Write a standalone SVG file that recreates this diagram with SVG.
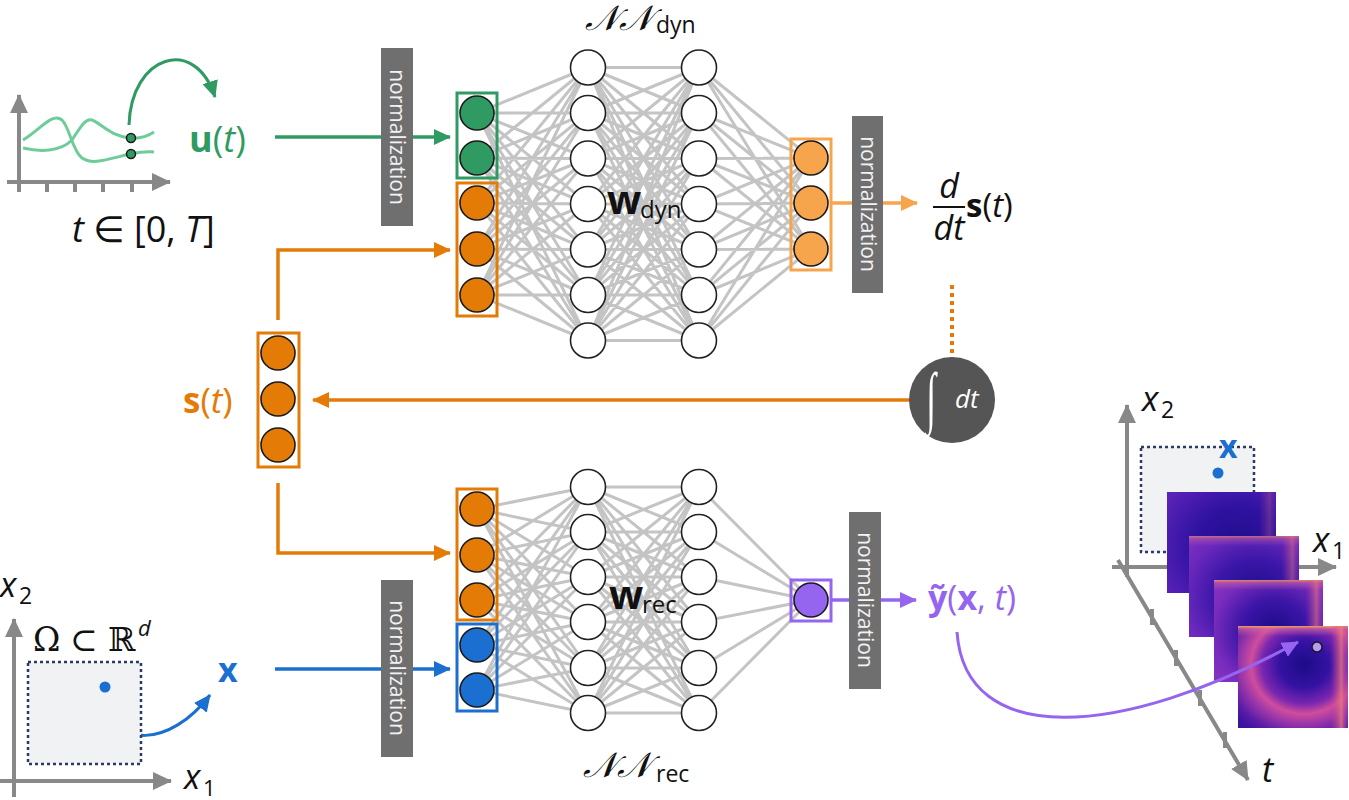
<svg xmlns="http://www.w3.org/2000/svg" width="1349" height="800" viewBox="0 0 1349 800">
<style>
.lbl{font-family:"Open Sans","Noto Sans","DejaVu Sans",sans-serif;}
.edge{fill:none;stroke:#c4c4c4;stroke-width:3;}
.hid{fill:#ffffff;stroke:#222222;stroke-width:1.6;}
.node{stroke:#1a1a1a;stroke-width:1.6;}
.norm{fill:#6f6f6f;}
.normtxt{font-family:"Open Sans","Noto Sans","DejaVu Sans",sans-serif;font-size:21px;fill:#f2f2f2;}
.axis{fill:none;stroke:#888888;stroke-width:4;}
.cal{font-family:"DejaVu Serif","Liberation Serif",serif;font-style:italic;}
.ser{font-family:"DejaVu Serif","Liberation Serif",serif;}
</style>
<defs>
<marker id="aG" markerUnits="userSpaceOnUse" markerWidth="18" markerHeight="16" refX="16" refY="8" orient="auto"><path d="M0,0 L17,8 L0,16 z" fill="#2f9b63"/></marker>
<marker id="aO" markerUnits="userSpaceOnUse" markerWidth="18" markerHeight="16" refX="16" refY="8" orient="auto"><path d="M0,0 L17,8 L0,16 z" fill="#e47b07"/></marker>
<marker id="aL" markerUnits="userSpaceOnUse" markerWidth="18" markerHeight="16" refX="16" refY="8" orient="auto"><path d="M0,0 L17,8 L0,16 z" fill="#f6a54c"/></marker>
<marker id="aB" markerUnits="userSpaceOnUse" markerWidth="18" markerHeight="16" refX="16" refY="8" orient="auto"><path d="M0,0 L17,8 L0,16 z" fill="#1a6fd1"/></marker>
<marker id="aP" markerUnits="userSpaceOnUse" markerWidth="18" markerHeight="16" refX="16" refY="8" orient="auto"><path d="M0,0 L17,8 L0,16 z" fill="#9565f0"/></marker>
<marker id="aX" markerUnits="userSpaceOnUse" markerWidth="20" markerHeight="18" refX="18" refY="9" orient="auto"><path d="M0,0 L19,9 L0,18 z" fill="#888888"/></marker>
<radialGradient id="hm1" cx="0.65" cy="0.55" r="0.8">
<stop offset="0" stop-color="#1f0c8c"/><stop offset="0.5" stop-color="#2f12a0"/><stop offset="1" stop-color="#5a22b8"/>
</radialGradient>
<radialGradient id="hm2" cx="0.6" cy="0.6" r="0.8">
<stop offset="0" stop-color="#1e0c8a"/><stop offset="0.45" stop-color="#3a16a8"/><stop offset="0.8" stop-color="#6a28bc"/><stop offset="1" stop-color="#7a30c0"/>
</radialGradient>
<radialGradient id="hm3" cx="0.55" cy="0.5" r="0.75">
<stop offset="0" stop-color="#1c0b88"/><stop offset="0.4" stop-color="#3a15a6"/><stop offset="0.75" stop-color="#7a2cbd"/><stop offset="1" stop-color="#8a34bf"/>
</radialGradient>
<radialGradient id="hm4" cx="0.6" cy="0.38" r="0.8">
<stop offset="0" stop-color="#1c0b88"/><stop offset="0.28" stop-color="#3412a2"/><stop offset="0.48" stop-color="#7a26b0"/><stop offset="0.6" stop-color="#cf4d9c"/><stop offset="0.7" stop-color="#a53aa8"/><stop offset="0.88" stop-color="#5a1ca8"/><stop offset="1" stop-color="#3a139f"/>
</radialGradient>
<linearGradient id="topE" x1="0" y1="0" x2="0" y2="1">
<stop offset="0" stop-color="#f6a052" stop-opacity="1"/><stop offset="0.03" stop-color="#d86aa0" stop-opacity="0.6"/><stop offset="0.1" stop-color="#d86aa0" stop-opacity="0"/>
</linearGradient>
<linearGradient id="rightE" x1="1" y1="0" x2="0" y2="0">
<stop offset="0" stop-color="#b03ca8" stop-opacity="0.2"/><stop offset="0.06" stop-color="#ee7a7a" stop-opacity="0.75"/><stop offset="0.16" stop-color="#c8408a" stop-opacity="0"/>
</linearGradient>
</defs>
<rect width="1349" height="800" fill="#ffffff"/>

<!-- network edges -->
<g id="edges-dyn">
<path class="edge" d="M477 113L588 67.5M477 113L588 113M477 113L588 158.5M477 113L588 204M477 113L588 249.5M477 113L588 295M477 113L588 340.5
M477 158L588 67.5M477 158L588 113M477 158L588 158.5M477 158L588 204M477 158L588 249.5M477 158L588 295M477 158L588 340.5
M477 203L588 67.5M477 203L588 113M477 203L588 158.5M477 203L588 204M477 203L588 249.5M477 203L588 295M477 203L588 340.5
M477 249L588 67.5M477 249L588 113M477 249L588 158.5M477 249L588 204M477 249L588 249.5M477 249L588 295M477 249L588 340.5
M477 295L588 67.5M477 295L588 113M477 295L588 158.5M477 295L588 204M477 295L588 249.5M477 295L588 295M477 295L588 340.5"/>
<path class="edge" d="M588 67.5L699 67.5M588 67.5L699 113M588 67.5L699 158.5M588 67.5L699 204M588 67.5L699 249.5M588 67.5L699 295M588 67.5L699 340.5
M588 113L699 67.5M588 113L699 113M588 113L699 158.5M588 113L699 204M588 113L699 249.5M588 113L699 295M588 113L699 340.5
M588 158.5L699 67.5M588 158.5L699 113M588 158.5L699 158.5M588 158.5L699 204M588 158.5L699 249.5M588 158.5L699 295M588 158.5L699 340.5
M588 204L699 67.5M588 204L699 113M588 204L699 158.5M588 204L699 204M588 204L699 249.5M588 204L699 295M588 204L699 340.5
M588 249.5L699 67.5M588 249.5L699 113M588 249.5L699 158.5M588 249.5L699 204M588 249.5L699 249.5M588 249.5L699 295M588 249.5L699 340.5
M588 295L699 67.5M588 295L699 113M588 295L699 158.5M588 295L699 204M588 295L699 249.5M588 295L699 295M588 295L699 340.5
M588 340.5L699 67.5M588 340.5L699 113M588 340.5L699 158.5M588 340.5L699 204M588 340.5L699 249.5M588 340.5L699 295M588 340.5L699 340.5"/>
<path class="edge" d="M699 67.5L811 158M699 67.5L811 203M699 67.5L811 249
M699 113L811 158M699 113L811 203M699 113L811 249
M699 158.5L811 158M699 158.5L811 203M699 158.5L811 249
M699 204L811 158M699 204L811 203M699 204L811 249
M699 249.5L811 158M699 249.5L811 203M699 249.5L811 249
M699 295L811 158M699 295L811 203M699 295L811 249
M699 340.5L811 158M699 340.5L811 203M699 340.5L811 249"/>
</g>
<g id="edges-rec">
<path class="edge" d="M477 509L588 487M477 509L588 532M477 509L588 577M477 509L588 622M477 509L588 668M477 509L588 713
M477 555L588 487M477 555L588 532M477 555L588 577M477 555L588 622M477 555L588 668M477 555L588 713
M477 600L588 487M477 600L588 532M477 600L588 577M477 600L588 622M477 600L588 668M477 600L588 713
M477 645L588 487M477 645L588 532M477 645L588 577M477 645L588 622M477 645L588 668M477 645L588 713
M477 690L588 487M477 690L588 532M477 690L588 577M477 690L588 622M477 690L588 668M477 690L588 713"/>
<path class="edge" d="M588 487L699 487M588 487L699 532M588 487L699 577M588 487L699 622M588 487L699 668M588 487L699 713
M588 532L699 487M588 532L699 532M588 532L699 577M588 532L699 622M588 532L699 668M588 532L699 713
M588 577L699 487M588 577L699 532M588 577L699 577M588 577L699 622M588 577L699 668M588 577L699 713
M588 622L699 487M588 622L699 532M588 622L699 577M588 622L699 622M588 622L699 668M588 622L699 713
M588 668L699 487M588 668L699 532M588 668L699 577M588 668L699 622M588 668L699 668M588 668L699 713
M588 713L699 487M588 713L699 532M588 713L699 577M588 713L699 622M588 713L699 668M588 713L699 713"/>
<path class="edge" d="M699 487L811 600M699 532L811 600M699 577L811 600M699 622L811 600M699 668L811 600M699 713L811 600"/>
</g>

<!-- connectors -->
<g id="connectors" fill="none" stroke-width="3.5">
<path d="M275 137H450" stroke="#2f9b63" marker-end="url(#aG)"/>
<path d="M278 320V250H450" stroke="#e47b07" marker-end="url(#aO)"/>
<path d="M278 483V553H450" stroke="#e47b07" marker-end="url(#aO)"/>
<path d="M275 669H450" stroke="#1a6fd1" marker-end="url(#aB)"/>
<path d="M831 203H917" stroke="#f6a54c" marker-end="url(#aL)"/>
<path d="M831 600H916" stroke="#9565f0" marker-end="url(#aP)"/>
<path d="M912 400H313" stroke="#e47b07" marker-end="url(#aO)"/>
<path d="M952 285V360" stroke="#e47b07" stroke-width="4" stroke-dasharray="4 4"/>
<path d="M129 125C131 55 195 35 215 97" stroke="#2f9b63" stroke-width="3" marker-end="url(#aG)"/>
<path d="M108 700C112 748 170 748 210 695" stroke="#1a6fd1" stroke-width="3" marker-end="url(#aB)"/>
</g>

<!-- normalization bars -->
<g id="norm-in-dyn"><rect class="norm" x="381" y="48" width="32" height="178"/><text class="normtxt" transform="translate(390,137) rotate(90)" text-anchor="middle">normalization</text></g>
<g id="norm-out-dyn"><rect class="norm" x="852" y="116" width="31" height="177"/><text class="normtxt" transform="translate(861,204) rotate(90)" text-anchor="middle">normalization</text></g>
<g id="norm-in-rec"><rect class="norm" x="381" y="580" width="32" height="177"/><text class="normtxt" transform="translate(390,668) rotate(90)" text-anchor="middle">normalization</text></g>
<g id="norm-out-rec"><rect class="norm" x="849" y="512" width="32" height="177"/><text class="normtxt" transform="translate(858,600) rotate(90)" text-anchor="middle">normalization</text></g>

<!-- top network nodes -->
<g id="in-u">
<rect x="457" y="93" width="40" height="85" fill="none" stroke="#2f9b63" stroke-width="3"/>
<circle class="node" cx="477" cy="113" r="17" fill="#2f9b63"/>
<circle class="node" cx="477" cy="158" r="17" fill="#2f9b63"/>
</g>
<g id="in-s-dyn">
<rect x="457" y="183" width="40" height="133" fill="none" stroke="#e47b07" stroke-width="3"/>
<circle class="node" cx="477" cy="203" r="17" fill="#e47b07"/>
<circle class="node" cx="477" cy="249" r="17" fill="#e47b07"/>
<circle class="node" cx="477" cy="295" r="17" fill="#e47b07"/>
</g>
<g id="hidden-dyn">
<circle class="hid" cx="588" cy="67.5" r="17.5"/><circle class="hid" cx="588" cy="113" r="17.5"/><circle class="hid" cx="588" cy="158.5" r="17.5"/><circle class="hid" cx="588" cy="204" r="17.5"/><circle class="hid" cx="588" cy="249.5" r="17.5"/><circle class="hid" cx="588" cy="295" r="17.5"/><circle class="hid" cx="588" cy="340.5" r="17.5"/>
<circle class="hid" cx="699" cy="67.5" r="17.5"/><circle class="hid" cx="699" cy="113" r="17.5"/><circle class="hid" cx="699" cy="158.5" r="17.5"/><circle class="hid" cx="699" cy="204" r="17.5"/><circle class="hid" cx="699" cy="249.5" r="17.5"/><circle class="hid" cx="699" cy="295" r="17.5"/><circle class="hid" cx="699" cy="340.5" r="17.5"/>
</g>
<g id="out-dyn">
<rect x="791" y="139" width="40" height="131" fill="none" stroke="#f6a54c" stroke-width="3"/>
<circle class="node" cx="811" cy="158" r="17" fill="#f6a54c"/>
<circle class="node" cx="811" cy="203" r="17" fill="#f6a54c"/>
<circle class="node" cx="811" cy="249" r="17" fill="#f6a54c"/>
</g>
<g id="label-nn-dyn" class="lbl">
<text x="585" y="30" class="cal" font-size="35" fill="#111">𝒩𝒩</text>
<text x="656" y="33" font-size="23" fill="#111">dyn</text>
<text x="607" y="214" font-size="40" font-weight="bold" fill="#111">w</text>
<text x="640" y="218" font-size="24" fill="#111">dyn</text>
</g>

<!-- bottom network nodes -->
<g id="in-s-rec">
<rect x="457" y="489" width="40" height="131" fill="none" stroke="#e47b07" stroke-width="3"/>
<circle class="node" cx="477" cy="509" r="17" fill="#e47b07"/>
<circle class="node" cx="477" cy="555" r="17" fill="#e47b07"/>
<circle class="node" cx="477" cy="600" r="17" fill="#e47b07"/>
</g>
<g id="in-x">
<rect x="457" y="624" width="40" height="87" fill="none" stroke="#1a6fd1" stroke-width="3"/>
<circle class="node" cx="477" cy="645" r="17" fill="#1a6fd1"/>
<circle class="node" cx="477" cy="690" r="17" fill="#1a6fd1"/>
</g>
<g id="hidden-rec">
<circle class="hid" cx="588" cy="487" r="17.5"/><circle class="hid" cx="588" cy="532" r="17.5"/><circle class="hid" cx="588" cy="577" r="17.5"/><circle class="hid" cx="588" cy="622" r="17.5"/><circle class="hid" cx="588" cy="668" r="17.5"/><circle class="hid" cx="588" cy="713" r="17.5"/>
<circle class="hid" cx="699" cy="487" r="17.5"/><circle class="hid" cx="699" cy="532" r="17.5"/><circle class="hid" cx="699" cy="577" r="17.5"/><circle class="hid" cx="699" cy="622" r="17.5"/><circle class="hid" cx="699" cy="668" r="17.5"/><circle class="hid" cx="699" cy="713" r="17.5"/>
</g>
<g id="out-rec">
<rect x="791" y="580" width="40" height="41" fill="none" stroke="#9565f0" stroke-width="3"/>
<circle class="node" cx="811" cy="600" r="17" fill="#9565f0"/>
</g>
<g id="label-nn-rec" class="lbl">
<text x="583" y="777" class="cal" font-size="35" fill="#111">𝒩𝒩</text>
<text x="656" y="782" font-size="23" fill="#111">rec</text>
<text x="609" y="609" font-size="40" font-weight="bold" fill="#111">w</text>
<text x="642" y="613" font-size="24" fill="#111">rec</text>
</g>

<!-- state vector s(t) -->
<g id="state">
<rect x="258" y="333" width="41" height="134" fill="none" stroke="#e47b07" stroke-width="3"/>
<circle class="node" cx="278" cy="353" r="17" fill="#e47b07"/>
<circle class="node" cx="278" cy="399" r="17" fill="#e47b07"/>
<circle class="node" cx="278" cy="445" r="17" fill="#e47b07"/>
<text class="lbl" x="183" y="413" font-size="35" fill="#e47b07"><tspan font-weight="bold">s</tspan>(<tspan font-style="italic">t</tspan>)</text>
</g>

<!-- integrator -->
<g id="integrator">
<circle cx="952" cy="400" r="43" fill="#555555"/>
<text transform="translate(931,420) scale(0.8,1.55)" font-family="Liberation Serif, serif" font-size="44" fill="#ffffff" text-anchor="middle">∫</text>
<text class="lbl" x="955" y="408" font-size="26" font-style="italic" fill="#ffffff">dt</text>
</g>

<!-- derivative label -->
<g id="ds-label" class="lbl" fill="#111">
<text x="949" y="198" font-size="34" font-style="italic" text-anchor="middle">d</text>
<line x1="933" y1="207" x2="965" y2="207" stroke="#111" stroke-width="2"/>
<text x="949" y="240" font-size="34" font-style="italic" text-anchor="middle">dt</text>
<text x="966" y="217" font-size="33"><tspan font-weight="bold">s</tspan>(<tspan font-style="italic">t</tspan>)</text>
</g>

<!-- input u(t) plot -->
<g id="u-plot">
<path class="axis" d="M19 192V95" marker-end="url(#aX)"/>
<path class="axis" d="M7 182H170" marker-end="url(#aX)"/>
<path class="axis" d="M19 182v10M47 182v10M75 182v10M103 182v10M132 182v10"/>
<path d="M23 140C40 130 52 112 62 120C70 128 72 150 82 158C92 165 105 160 130 154C140 152 148 151 154 152" fill="none" stroke="#6dcc9a" stroke-width="3"/>
<path d="M23 148C40 152 60 152 72 140C80 128 85 118 92 120C102 124 110 136 130 138C140 139 148 136 154 132" fill="none" stroke="#6dcc9a" stroke-width="3"/>
<circle cx="131" cy="138" r="4.5" fill="#2f9b63" stroke="#1a1a1a" stroke-width="1.5"/>
<circle cx="131" cy="154" r="4.5" fill="#2f9b63" stroke="#1a1a1a" stroke-width="1.5"/>
<text class="lbl" x="189" y="152" font-size="36" fill="#2f9b63"><tspan font-weight="bold">u</tspan>(<tspan font-style="italic">t</tspan>)</text>
<text class="lbl" x="72" y="242" font-size="36" fill="#111"><tspan font-style="italic">t</tspan> ∈ [0, <tspan font-style="italic">T</tspan>]</text>
</g>

<!-- domain plot -->
<g id="x-plot">
<path class="axis" d="M14 797V619" marker-end="url(#aX)"/>
<path class="axis" d="M0 781H171" marker-end="url(#aX)"/>
<rect x="28" y="662" width="113" height="102" fill="#f1f2f4" stroke="#2b3a67" stroke-width="2.5" stroke-dasharray="3 3"/>
<circle cx="105" cy="687" r="5.5" fill="#1a6fd1"/>
<text class="ser" x="33" y="651" font-size="33" fill="#111">Ω</text>
<text class="ser" x="70" y="651" font-size="33" fill="#111">⊂</text>
<text class="ser" x="108" y="651" font-size="33" fill="#111">ℝ</text>
<text class="lbl" x="138" y="636" font-size="22" font-style="italic" fill="#111">d</text>
<text class="lbl" x="0" y="597" font-size="34" font-style="italic" fill="#111">x</text>
<text class="lbl" x="19" y="604" font-size="23" fill="#111">2</text>
<text class="lbl" x="184" y="789" font-size="34" font-style="italic" fill="#111">x</text>
<text class="lbl" x="203" y="796" font-size="22" fill="#111">1</text>
<text class="lbl" x="218" y="682" font-size="34" font-weight="bold" fill="#1a6fd1">x</text>
</g>

<!-- output label -->
<g id="y-label">
<text class="lbl" x="928" y="610" font-size="34" fill="#9565f0"><tspan font-weight="bold">ỹ</tspan>(<tspan font-weight="bold">x</tspan>, <tspan font-style="italic">t</tspan>)</text>
</g>

<!-- space-time plot -->
<g id="st-plot">
<path class="axis" d="M1127 577V405" marker-end="url(#aX)"/>
<path class="axis" d="M1112 567H1336" marker-end="url(#aX)"/>
<rect x="1141" y="447" width="113" height="105" fill="#f1f2f4" stroke="#2b3a67" stroke-width="2.5" stroke-dasharray="3 3"/>
<circle cx="1218" cy="473" r="5.5" fill="#1a6fd1"/>
<text class="lbl" x="1219" y="458" font-size="32" font-weight="bold" fill="#1a6fd1">x</text>
<text class="lbl" x="1142" y="411" font-size="34" font-style="italic" fill="#111">x</text>
<text class="lbl" x="1161" y="418" font-size="23" fill="#111">2</text>
<text class="lbl" x="1313" y="552" font-size="34" font-style="italic" fill="#111">x</text>
<text class="lbl" x="1332" y="559" font-size="23" fill="#111">1</text>
<text class="lbl" x="1262" y="782" font-size="34" font-style="italic" fill="#111">t</text>
<rect x="1167" y="492" width="109" height="101" fill="url(#hm1)"/>
<rect x="1167" y="492" width="109" height="101" fill="url(#rightE)" opacity="0.35"/>
<rect x="1189" y="536" width="110" height="101" fill="url(#hm2)"/>
<rect x="1189" y="536" width="110" height="101" fill="url(#topE)" opacity="0.6"/>
<rect x="1189" y="536" width="110" height="101" fill="url(#rightE)" opacity="0.6"/>
<rect x="1214" y="580" width="109" height="102" fill="url(#hm3)"/>
<rect x="1214" y="580" width="109" height="102" fill="url(#topE)" opacity="0.8"/>
<rect x="1214" y="580" width="109" height="102" fill="url(#rightE)" opacity="0.75"/>
<rect x="1238" y="626" width="110" height="102" fill="url(#hm4)"/>
<rect x="1238" y="626" width="110" height="102" fill="url(#topE)"/>
<rect x="1238" y="626" width="110" height="102" fill="url(#rightE)"/>
<path class="axis" d="M1118 560L1248 780" marker-end="url(#aX)"/>
<path class="axis" d="M1152 609v16M1176 650v16M1200 690v16M1225 732v16"/>
<path d="M957 632C965 748 1120 740 1298 642" fill="none" stroke="#9565f0" stroke-width="3" marker-end="url(#aP)"/>
<circle cx="1317" cy="647" r="5" fill="#b89af5" stroke="#1a1a1a" stroke-width="1.5"/>
</g>
</svg>
